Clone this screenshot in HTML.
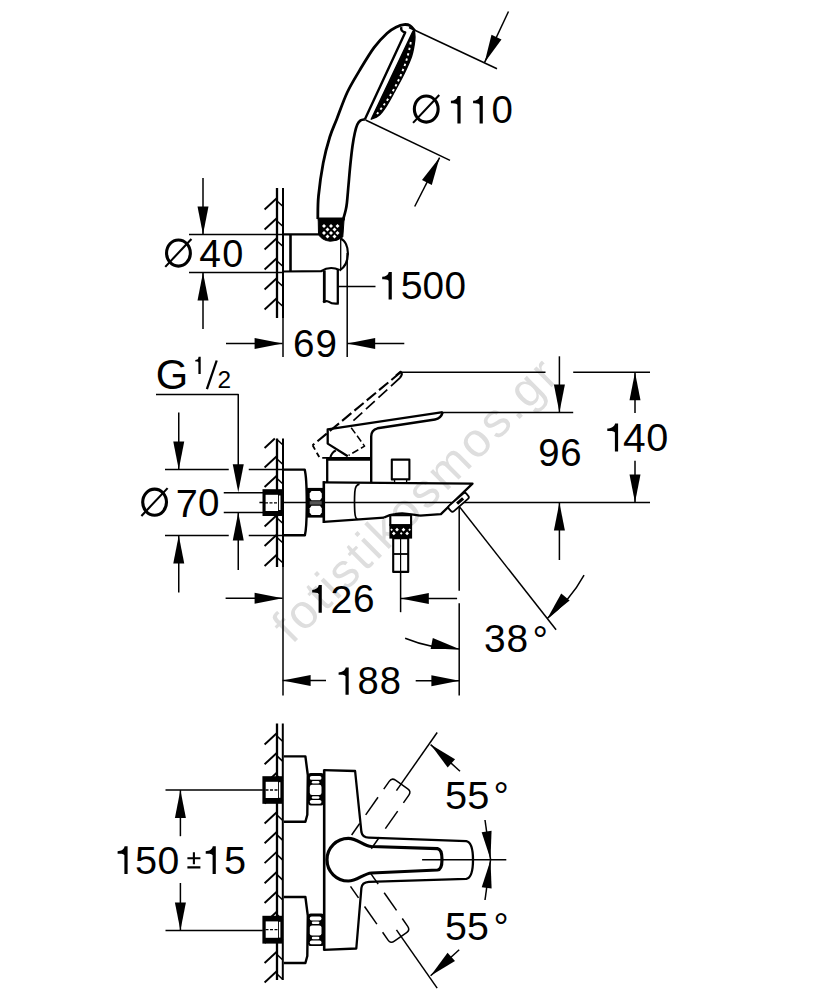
<!DOCTYPE html><html><head><meta charset="utf-8"><style>html,body{margin:0;padding:0;background:#fff;overflow:hidden}svg{display:block}text{font-family:"Liberation Sans",sans-serif}</style></head><body><svg width="834" height="1000" viewBox="0 0 834 1000">
<rect width="834" height="1000" fill="#fff"/>
<text x="0" y="0" font-size="48" fill="#dedede" transform="translate(292,645) rotate(-44.8)" letter-spacing="3.0">fotistikosmos.gr</text>
<g fill="none" stroke="#000" stroke-linecap="butt" stroke-linejoin="round">
<line x1="277" y1="188" x2="277" y2="318" stroke-width="2.3" />
<line x1="283" y1="188" x2="283" y2="318" stroke-width="2.0" />
<line x1="264.6" y1="209.5" x2="277" y2="198" stroke-width="1.9" />
<line x1="277" y1="201" x2="283" y2="206.5" stroke-width="1.6" />
<line x1="264.6" y1="229.5" x2="277" y2="218" stroke-width="1.9" />
<line x1="277" y1="221" x2="283" y2="226.5" stroke-width="1.6" />
<line x1="264.6" y1="249.5" x2="277" y2="238" stroke-width="1.9" />
<line x1="277" y1="241" x2="283" y2="246.5" stroke-width="1.6" />
<line x1="264.6" y1="269.5" x2="277" y2="258" stroke-width="1.9" />
<line x1="277" y1="261" x2="283" y2="266.5" stroke-width="1.6" />
<line x1="264.6" y1="289.5" x2="277" y2="278" stroke-width="1.9" />
<line x1="277" y1="281" x2="283" y2="286.5" stroke-width="1.6" />
<line x1="264.6" y1="309.5" x2="277" y2="298" stroke-width="1.9" />
<line x1="277" y1="301" x2="283" y2="306.5" stroke-width="1.6" />
<line x1="283" y1="318" x2="283" y2="357" stroke-width="1.5" />
<line x1="283" y1="234.3" x2="319" y2="234.3" stroke-width="2.2" />
<line x1="290.5" y1="234.3" x2="290.5" y2="271.5" stroke-width="2.6" />
<path d="M283,271.5 L321,271.2 Q330,265.5 339.5,270" stroke-width="2.2" />
<line x1="340.7" y1="239" x2="340.7" y2="270" stroke-width="1.3" />
<path d="M340.5,238.5 C350.5,243 350.5,264 339.5,270.5" stroke-width="2.2" />
<path d="M324.3,270.5 V302.6" stroke-width="2.8" />
<path d="M337.8,270 V303.4" stroke-width="2.3" />
<path d="M323.2,302.4 Q325.5,300.3 328.5,301.6 Q332.5,304.4 338.8,303.4" stroke-width="2.1" />
<path d="M318.2,218 H344.2 L342.8,237 Q337,241.5 330,241.2 Q322,240.5 318.5,234.5 Z" fill="#000" stroke="#000" stroke-width="1"/>
<path d="M324,224 L326,226 L324,228 L322,226 Z" fill="#fff" stroke="none"/>
<path d="M331,224 L333,226 L331,228 L329,226 Z" fill="#fff" stroke="none"/>
<path d="M337.5,224 L339.5,226 L337.5,228 L335.5,226 Z" fill="#fff" stroke="none"/>
<path d="M327.5,227.5 L329.5,229.5 L327.5,231.5 L325.5,229.5 Z" fill="#fff" stroke="none"/>
<path d="M334.5,227.5 L336.5,229.5 L334.5,231.5 L332.5,229.5 Z" fill="#fff" stroke="none"/>
<path d="M324,231 L326,233 L324,235 L322,233 Z" fill="#fff" stroke="none"/>
<path d="M331,231 L333,233 L331,235 L329,233 Z" fill="#fff" stroke="none"/>
<path d="M337.5,231 L339.5,233 L337.5,235 L335.5,233 Z" fill="#fff" stroke="none"/>
<path d="M327.5,234.5 L329.5,236.5 L327.5,238.5 L325.5,236.5 Z" fill="#fff" stroke="none"/>
<path d="M334.5,234.5 L336.5,236.5 L334.5,238.5 L332.5,236.5 Z" fill="#fff" stroke="none"/>
<path d="M317.8,219 C317.92,215.17 317.6,205.33 318.5,196 C319.4,186.67 321.32,172.83 323.2,163 C325.08,153.17 327.53,144.33 329.8,137 C332.07,129.67 333.9,126.42 336.8,119 C339.7,111.58 343.4,100.6 347.2,92.5 C351,84.4 355.13,77.88 359.6,70.4 C364.07,62.92 369.42,53.8 374,47.6 C378.58,41.4 383.35,36.63 387.1,33.2 C390.85,29.77 393.7,28.43 396.5,27 C399.3,25.57 401.65,24.83 403.9,24.6 C406.15,24.37 408.2,24.57 410,25.6 C411.8,26.63 413.92,29.93 414.7,30.8" stroke-width="2.8" />
<path d="M343.2,219.4 C343.6,217.92 344.98,213.23 345.6,210.5 C346.22,207.77 346.42,207.25 346.9,203 C347.38,198.75 347.93,191.33 348.5,185 C349.07,178.67 349.63,171.5 350.3,165 C350.97,158.5 351.75,151.33 352.5,146 C353.25,140.67 354,136.58 354.8,133 C355.6,129.42 356.33,126.6 357.3,124.5 C358.27,122.4 359.35,121.25 360.6,120.4 C361.85,119.55 364.1,119.57 364.8,119.4" stroke-width="2.7" />
<line x1="317.8" y1="219.2" x2="344.8" y2="219.2" stroke-width="2.4" />
<path d="M401.5,27 Q400,31 405.2,32.5 L364.8,119.5" stroke-width="2.4" />
<path d="M412.8,31.5 L371.2,119.2  C372.47,118.58 376.33,117.62 378.8,115.5 C381.27,113.38 383.42,110.42 386,106.5 C388.58,102.58 391.32,97.42 394.3,92 C397.28,86.58 401,80 403.9,74 C406.8,68 409.88,61.67 411.7,56 C413.52,50.33 414.33,44.08 414.8,40 C415.27,35.92 414.55,32.92 414.5,31.5 Z" fill="#000" stroke="#000" stroke-width="1.4"/>
<path d="M410.8,42 C408.5,55 405,66 400,77 C395,88 389,99 377,114" stroke-width="1.9" stroke="#fff" stroke-dasharray="2.4,3.2"/>
<line x1="409" y1="27.5" x2="497" y2="68.7" stroke-width="1.5" />
<line x1="365.5" y1="120" x2="450" y2="160.4" stroke-width="1.5" />
<line x1="508.5" y1="11.5" x2="484.6" y2="62.4" stroke-width="1.5" />
<path d="M484.6,62.4 L501.48,39.39 L491.52,34.72 Z" fill="#000" stroke="none"/>
<line x1="414.7" y1="206.5" x2="439.6" y2="157.6" stroke-width="1.5" />
<path d="M439.6,157.6 L421.99,180.06 L431.8,185.05 Z" fill="#000" stroke="none"/>
<line x1="189" y1="234.4" x2="283" y2="234.4" stroke-width="1.5" />
<line x1="189" y1="272.4" x2="283" y2="272.4" stroke-width="1.5" />
<line x1="203" y1="178" x2="203" y2="234.4" stroke-width="1.5" />
<path d="M203,234.4 L208.5,206.4 L197.5,206.4 Z" fill="#000" stroke="none"/>
<line x1="203" y1="329" x2="203" y2="272.4" stroke-width="1.5" />
<path d="M203,272.4 L197.5,300.4 L208.5,300.4 Z" fill="#000" stroke="none"/>
<line x1="347.2" y1="253" x2="347.2" y2="357" stroke-width="1.5" />
<line x1="226" y1="343.5" x2="282.6" y2="343.5" stroke-width="1.5" />
<path d="M282.6,343.5 L254.6,338 L254.6,349 Z" fill="#000" stroke="none"/>
<line x1="404.3" y1="343.5" x2="347.2" y2="343.5" stroke-width="1.5" />
<path d="M347.2,343.5 L375.2,349 L375.2,338 Z" fill="#000" stroke="none"/>
<line x1="338.5" y1="286.5" x2="375.5" y2="286.5" stroke-width="1.5" />
<line x1="277" y1="438.5" x2="277" y2="567" stroke-width="2.3" />
<line x1="283" y1="438.5" x2="283" y2="567" stroke-width="2.0" />
<line x1="264.6" y1="448" x2="274.84" y2="438.5" stroke-width="1.9" />
<line x1="277" y1="439.5" x2="283" y2="445" stroke-width="1.6" />
<line x1="264.6" y1="467.5" x2="277" y2="456" stroke-width="1.9" />
<line x1="277" y1="459" x2="283" y2="464.5" stroke-width="1.6" />
<line x1="264.6" y1="487" x2="277" y2="475.5" stroke-width="1.9" />
<line x1="277" y1="478.5" x2="283" y2="484" stroke-width="1.6" />
<line x1="264.6" y1="506.5" x2="277" y2="495" stroke-width="1.9" />
<line x1="277" y1="498" x2="283" y2="503.5" stroke-width="1.6" />
<line x1="264.6" y1="526.5" x2="277" y2="515" stroke-width="1.9" />
<line x1="277" y1="518" x2="283" y2="523.5" stroke-width="1.6" />
<line x1="264.6" y1="546" x2="277" y2="534.5" stroke-width="1.9" />
<line x1="277" y1="537.5" x2="283" y2="543" stroke-width="1.6" />
<line x1="264.6" y1="566" x2="277" y2="554.5" stroke-width="1.9" />
<line x1="277" y1="557.5" x2="283" y2="563" stroke-width="1.6" />
<line x1="283" y1="567" x2="283" y2="695.6" stroke-width="1.5" />
<path d="M156,394.5 H238.25 V466" stroke-width="1.5" />
<path d="M238.25,492.3 L243.75,464.3 L232.75,464.3 Z" fill="#000" stroke="none"/>
<line x1="238.25" y1="570" x2="238.25" y2="512.5" stroke-width="1.5" />
<path d="M238.25,512.5 L232.75,540.5 L243.75,540.5 Z" fill="#000" stroke="none"/>
<line x1="178.75" y1="412.5" x2="178.75" y2="469.6" stroke-width="1.5" />
<path d="M178.75,469.6 L184.25,441.6 L173.25,441.6 Z" fill="#000" stroke="none"/>
<line x1="178.75" y1="592.5" x2="178.75" y2="535.5" stroke-width="1.5" />
<path d="M178.75,535.5 L173.25,563.5 L184.25,563.5 Z" fill="#000" stroke="none"/>
<line x1="165" y1="469.6" x2="228.75" y2="469.6" stroke-width="1.5" />
<line x1="248.75" y1="469.6" x2="283" y2="469.6" stroke-width="1.5" />
<line x1="165" y1="535.4" x2="228.75" y2="535.4" stroke-width="1.5" />
<line x1="248.75" y1="535.4" x2="283" y2="535.4" stroke-width="1.5" />
<line x1="223.75" y1="492.8" x2="264" y2="492.8" stroke-width="1.5" />
<line x1="223.75" y1="512.6" x2="264" y2="512.6" stroke-width="1.5" />
<line x1="259.4" y1="502.6" x2="650" y2="502.6" stroke-width="1.5" />
<rect x="262.5" y="489.2" width="20" height="26.8" fill="#000" stroke="none"/>
<rect x="265.6" y="494.8" width="12.4" height="16.2" fill="#fff" stroke="none"/>
<rect x="278.9" y="495.5" width="1.6" height="14.5" fill="#fff" stroke="none"/>
<line x1="265" y1="502.9" x2="278" y2="502.9" stroke-width="1.3" stroke-dasharray="3,1.5"/>
<path d="M283,469.6 H304.7 C307.4,480 307.4,525 304.9,535.2 H283" stroke-width="2.4" />
<rect x="306.4" y="487.9" width="18.6" height="29.7" fill="#000" stroke="none"/>
<path d="M311.5,491 H320 L321.8,493.5 V497.8 L320,500.3 H311.5 L309.7,497.8 V493.5 Z" fill="#fff" stroke="none"/>
<path d="M311.5,505.7 H320 L321.8,508.2 V512.5 L320,515 H311.5 L309.7,512.5 V508.2 Z" fill="#fff" stroke="none"/>
<rect x="309.7" y="501.2" width="12" height="3.4" fill="#555" stroke="none"/>
<line x1="327.2" y1="458.3" x2="327.2" y2="482" stroke-width="2.3" />
<line x1="326.4" y1="458.8" x2="371.8" y2="458.8" stroke-width="3.8" />
<path d="M442.8,412.2 L327.7,429.3 L327.7,443.6 L347.8,456.2" stroke-width="2.3" />
<path d="M442.8,412.2 Q441,418.5 435,419.5 L377.5,428.3 Q371.2,429.8 371.2,436.5 V482" stroke-width="2.4" />
<path d="M330.2,458 Q331.5,452.5 335.8,450.5" stroke-width="2.0" />
<path d="M400.6,372.3 L312.6,445.3" stroke-width="2.1" stroke-dasharray="12,4"/>
<path d="M312.6,445.3 L319.7,457.9 H327" stroke-width="1.8" stroke-dasharray="5,3.5"/>
<path d="M399.8,378 L352.5,421.5" stroke-width="1.7" stroke-dasharray="12,5"/>
<path d="M351.2,427.7 L364.6,446.1 L348.6,455.4" stroke-width="1.5" stroke-dasharray="7,3"/>
<path d="M396,375.5 L400.5,371.8 Q403.5,373.5 399.8,378" stroke-width="2.2" />
<path d="M323.8,481.2 V523" stroke-width="2.6" />
<path d="M323,482.4 L472.5,483.6 L440.9,514.1 L420,515.6" stroke-width="2.3" />
<path d="M384,517.6 L323.8,521.9" stroke-width="2.3" />
<path d="M359.5,484.2 Q355.2,484.8 354.8,492 Q354.2,502 354.8,512 Q355.2,518.6 357.5,519.5" stroke-width="1.7" />
<rect x="391.8" y="459.6" width="17.6" height="19.8" fill="#fff" stroke="#000" stroke-width="2.1"/>
<rect x="394.6" y="479.6" width="12" height="3" fill="#fff" stroke="#000" stroke-width="1.3"/>
<g transform="translate(458.6,502.3) rotate(-41)"><rect x="-11.5" y="-3.6" width="23" height="7.2" rx="2.2" fill="#fff" stroke="#000" stroke-width="1.8"/><line x1="-2" y1="0" x2="6" y2="0" stroke-width="3.2"/></g>
<rect x="390.3" y="515.2" width="20.8" height="10" fill="#fff" stroke="#000" stroke-width="2.1"/>
<path d="M384,517.6 Q390,514.4 395,514.2 Q401,513 407,513.8 Q413,514.5 420,515.6" stroke-width="2.3" />
<rect x="389.4" y="524.2" width="22.7" height="14.4" fill="#000" stroke="none"/>
<path d="M391.6,528.4000000000001 L392.90000000000003,529.7 L391.6,531.0 L390.3,529.7 Z" fill="#fff" stroke="none"/>
<path d="M397,527.8000000000001 L398.9,529.7 L397,531.6 L395.1,529.7 Z" fill="#fff" stroke="none"/>
<path d="M403.5,527.8000000000001 L405.4,529.7 L403.5,531.6 L401.6,529.7 Z" fill="#fff" stroke="none"/>
<path d="M409.6,528.4000000000001 L410.90000000000003,529.7 L409.6,531.0 L408.3,529.7 Z" fill="#fff" stroke="none"/>
<path d="M393.8,531.5 L395.7,533.4 L393.8,535.3 L391.90000000000003,533.4 Z" fill="#fff" stroke="none"/>
<path d="M401.2,532.1 L402.5,533.4 L401.2,534.6999999999999 L399.9,533.4 Z" fill="#fff" stroke="none"/>
<path d="M407.1,531.5 L409.0,533.4 L407.1,535.3 L405.20000000000005,533.4 Z" fill="#fff" stroke="none"/>
<rect x="393.2" y="538.1" width="15" height="33.8" fill="#fff" stroke="#000" stroke-width="2.1"/>
<line x1="400.6" y1="538" x2="400.6" y2="572" stroke-width="1.2" />
<line x1="393.2" y1="554" x2="408.2" y2="554" stroke-width="1.8" />
<line x1="400.6" y1="572" x2="400.6" y2="612.2" stroke-width="1.5" />
<line x1="400.6" y1="372.2" x2="545.5" y2="372.2" stroke-width="1.5" />
<line x1="573.2" y1="372.2" x2="650" y2="372.2" stroke-width="1.5" />
<line x1="442.8" y1="412.5" x2="573.2" y2="412.5" stroke-width="1.5" />
<line x1="559.4" y1="356.3" x2="559.4" y2="412.5" stroke-width="1.5" />
<path d="M559.4,412.5 L564.9,384.5 L553.9,384.5 Z" fill="#000" stroke="none"/>
<line x1="559.4" y1="560" x2="559.4" y2="502.6" stroke-width="1.5" />
<path d="M559.4,502.6 L553.9,530.6 L564.9,530.6 Z" fill="#000" stroke="none"/>
<line x1="635" y1="413" x2="635" y2="372.2" stroke-width="1.5" />
<path d="M635,372.2 L629.5,400.2 L640.5,400.2 Z" fill="#000" stroke="none"/>
<line x1="635" y1="460.8" x2="635" y2="502.6" stroke-width="1.5" />
<path d="M635,502.6 L640.5,474.6 L629.5,474.6 Z" fill="#000" stroke="none"/>
<line x1="459.2" y1="506" x2="459.2" y2="590.7" stroke-width="1.5" />
<line x1="459.2" y1="603.3" x2="459.2" y2="695.6" stroke-width="1.5" />
<line x1="225.6" y1="598.3" x2="282.6" y2="598.3" stroke-width="1.5" />
<path d="M282.6,598.3 L254.6,592.8 L254.6,603.8 Z" fill="#000" stroke="none"/>
<line x1="457.1" y1="598.6" x2="400.8" y2="598.6" stroke-width="1.5" />
<path d="M400.8,598.6 L428.8,604.1 L428.8,593.1 Z" fill="#000" stroke="none"/>
<line x1="326" y1="680.6" x2="282.6" y2="680.6" stroke-width="1.5" />
<path d="M282.6,680.6 L310.6,686.1 L310.6,675.1 Z" fill="#000" stroke="none"/>
<line x1="415.7" y1="680.8" x2="459.4" y2="680.8" stroke-width="1.5" />
<path d="M459.4,680.8 L431.4,675.3 L431.4,686.3 Z" fill="#000" stroke="none"/>
<line x1="459.2" y1="506.4" x2="556.1" y2="629.8" stroke-width="1.5" />
<path d="M584.06,575.08 A142.5,142.5 0 0 1 547.32,618.38" stroke-width="1.5" />
<path d="M547.32,618.38 L569.63,600.59 L561.24,593.47 Z" fill="#000" stroke="none"/>
<path d="M405.14,638.25 A142.5,142.5 0 0 0 459.2,648.9" stroke-width="1.5" />
<path d="M459.2,648.9 L432.79,638.09 L430.66,648.88 Z" fill="#000" stroke="none"/>
<line x1="277" y1="723.5" x2="277" y2="980" stroke-width="2.3" />
<line x1="282.8" y1="723.5" x2="282.8" y2="980" stroke-width="2.0" />
<line x1="264.6" y1="744.5" x2="277" y2="733" stroke-width="1.9" />
<line x1="277" y1="736" x2="282.8" y2="741.5" stroke-width="1.6" />
<line x1="264.6" y1="764.3" x2="277" y2="752.8" stroke-width="1.9" />
<line x1="277" y1="755.8" x2="282.8" y2="761.3" stroke-width="1.6" />
<line x1="264.6" y1="784" x2="277" y2="772.5" stroke-width="1.9" />
<line x1="277" y1="775.5" x2="282.8" y2="781" stroke-width="1.6" />
<line x1="264.6" y1="803.5" x2="277" y2="792" stroke-width="1.9" />
<line x1="277" y1="795" x2="282.8" y2="800.5" stroke-width="1.6" />
<line x1="264.6" y1="823.5" x2="277" y2="812" stroke-width="1.9" />
<line x1="277" y1="815" x2="282.8" y2="820.5" stroke-width="1.6" />
<line x1="264.6" y1="843.3" x2="277" y2="831.8" stroke-width="1.9" />
<line x1="277" y1="834.8" x2="282.8" y2="840.3" stroke-width="1.6" />
<line x1="264.6" y1="863.1" x2="277" y2="851.6" stroke-width="1.9" />
<line x1="277" y1="854.6" x2="282.8" y2="860.1" stroke-width="1.6" />
<line x1="264.6" y1="883.2" x2="277" y2="871.7" stroke-width="1.9" />
<line x1="277" y1="874.7" x2="282.8" y2="880.2" stroke-width="1.6" />
<line x1="264.6" y1="903" x2="277" y2="891.5" stroke-width="1.9" />
<line x1="277" y1="894.5" x2="282.8" y2="900" stroke-width="1.6" />
<line x1="264.6" y1="923" x2="277" y2="911.5" stroke-width="1.9" />
<line x1="277" y1="914.5" x2="282.8" y2="920" stroke-width="1.6" />
<line x1="264.6" y1="943" x2="277" y2="931.5" stroke-width="1.9" />
<line x1="277" y1="934.5" x2="282.8" y2="940" stroke-width="1.6" />
<line x1="264.6" y1="963" x2="277" y2="951.5" stroke-width="1.9" />
<line x1="277" y1="954.5" x2="282.8" y2="960" stroke-width="1.6" />
<line x1="264.6" y1="982.5" x2="277" y2="971" stroke-width="1.9" />
<line x1="277" y1="974" x2="282.8" y2="979.5" stroke-width="1.6" />
<line x1="165.5" y1="790.1" x2="262.8" y2="790.1" stroke-width="1.5" />
<line x1="165.5" y1="930.4" x2="262.8" y2="930.4" stroke-width="1.5" />
<line x1="180.4" y1="836.2" x2="180.4" y2="790.1" stroke-width="1.5" />
<path d="M180.4,790.1 L174.9,818.1 L185.9,818.1 Z" fill="#000" stroke="none"/>
<line x1="180.4" y1="883" x2="180.4" y2="930.4" stroke-width="1.5" />
<path d="M180.4,930.4 L185.9,902.4 L174.9,902.4 Z" fill="#000" stroke="none"/>
<rect x="262.4" y="776.2" width="20.4" height="27.6" fill="#000" stroke="none"/>
<rect x="265.7" y="781.8" width="12.3" height="16.2" fill="#fff" stroke="none"/>
<rect x="278.9" y="782.2" width="1.5" height="15.6" fill="#fff" stroke="none"/>
<line x1="265.5" y1="790" x2="278" y2="790" stroke-width="1.3" stroke-dasharray="3,1.5"/>
<rect x="262.4" y="915.8" width="20.4" height="27.8" fill="#000" stroke="none"/>
<rect x="265.7" y="921.4" width="12.3" height="16.4" fill="#fff" stroke="none"/>
<rect x="278.9" y="921.8" width="1.5" height="15.8" fill="#fff" stroke="none"/>
<line x1="265.5" y1="929.7" x2="278" y2="929.7" stroke-width="1.3" stroke-dasharray="3,1.5"/>
<path d="M283.8,756.4 H305.4 L307.8,775 L307.3,814.7 L305.4,821.7 H283.8" stroke-width="2.4" />
<path d="M283.8,897 H305.4 L307.8,915.6 L307.3,956 L305.4,963 H283.8" stroke-width="2.4" />
<rect x="308" y="773" width="16" height="32.4" rx="2.8" fill="#000" stroke="none"/>
<rect x="309.8" y="776" width="11.7" height="3.8" rx="1.9" fill="#fff" stroke="none"/>
<rect x="311.8" y="781" width="7.6" height="2.5" rx="1.25" fill="#fff" stroke="none"/>
<rect x="309.8" y="784.8" width="11.7" height="10.1" rx="2.2" fill="#fff" stroke="none"/>
<rect x="311.8" y="796.2" width="7.6" height="2.5" rx="1.25" fill="#fff" stroke="none"/>
<rect x="309.8" y="800" width="11.7" height="3.7" rx="1.85" fill="#fff" stroke="none"/>
<rect x="308" y="913.6" width="16" height="32.4" rx="2.8" fill="#000" stroke="none"/>
<rect x="309.8" y="916.6" width="11.7" height="3.8" rx="1.9" fill="#fff" stroke="none"/>
<rect x="311.8" y="921.6" width="7.6" height="2.5" rx="1.25" fill="#fff" stroke="none"/>
<rect x="309.8" y="925.4" width="11.7" height="10.1" rx="2.2" fill="#fff" stroke="none"/>
<rect x="311.8" y="936.8" width="7.6" height="2.5" rx="1.25" fill="#fff" stroke="none"/>
<rect x="309.8" y="940.6" width="11.7" height="3.7" rx="1.85" fill="#fff" stroke="none"/>
<path d="M324.2,769.6 V950.5" stroke-width="2.6" />
<path d="M323.5,770.1 L355.1,771 L361.4,832 Q362.5,837.5 368.8,837.7 L466.3,841.2 Q473,842.5 473,860 Q473,877.5 466.3,878.8 L368.8,881.9 Q362,882.5 361.4,888 L356.3,948.5 L323.5,949.8" stroke-width="2.3" />
<path d="M348.3,838.4 A21.3,21.3 0 0 0 348.3,881 C357,881 363.5,873.5 371.5,873.0 L437.5,870 Q442,869.5 442,859.5 Q442,849.5 437.5,848.7 L371.5,846.5 C363.5,845.8 357,838.4 348.3,838.4 Z" stroke-width="3.2" />
<line x1="422.1" y1="859.7" x2="506.3" y2="859.7" stroke-width="1.5" />
<line x1="365.69" y1="814.91" x2="378.02" y2="797.3" stroke-width="1.5" />
<line x1="385.35" y1="828.67" x2="397.68" y2="811.06" stroke-width="1.5" />
<line x1="351.64" y1="834.98" x2="359.67" y2="823.51" stroke-width="1.5" />
<line x1="371.3" y1="848.74" x2="379.33" y2="837.28" stroke-width="1.5" />
<path d="M383.76,789.11 L389.21,781.32 Q391.79,777.64 395.47,780.22 L407.76,788.82 Q411.45,791.4 408.86,795.09 L403.42,802.87" stroke-width="1.5" />
<line x1="396.45" y1="790.67" x2="437.18" y2="732.51" stroke-width="1.5" />
<line x1="384.2" y1="892.73" x2="396.53" y2="910.34" stroke-width="1.5" />
<line x1="364.54" y1="906.49" x2="376.87" y2="924.11" stroke-width="1.5" />
<line x1="370.15" y1="872.66" x2="378.18" y2="884.13" stroke-width="1.5" />
<line x1="350.49" y1="886.42" x2="358.52" y2="897.89" stroke-width="1.5" />
<path d="M402.27,918.53 L407.72,926.31 Q410.3,930 406.61,932.58 L394.33,941.18 Q390.64,943.77 388.06,940.08 L382.61,932.3" stroke-width="1.5" />
<line x1="396.45" y1="929.93" x2="437.18" y2="988.09" stroke-width="1.5" />
<line x1="460" y1="771.2" x2="430.6" y2="744.6" stroke-width="1.5" />
<path d="M430.6,744.6 L447.67,767.46 L455.05,759.31 Z" fill="#000" stroke="none"/>
<line x1="459.2" y1="949.7" x2="430.6" y2="975.8" stroke-width="1.5" />
<path d="M430.6,975.8 L454.99,960.99 L447.57,952.86 Z" fill="#000" stroke="none"/>
<line x1="485" y1="820" x2="490.5" y2="859.2" stroke-width="1.5" />
<path d="M490.5,859.2 L491.56,830.78 L481.66,832.17 Z" fill="#000" stroke="none"/>
<line x1="485" y1="900" x2="490.5" y2="860.2" stroke-width="1.5" />
<path d="M490.5,860.2 L481.71,887.25 L491.62,888.62 Z" fill="#000" stroke="none"/>
</g>
<g font-family="Liberation Sans, sans-serif" fill="#000" stroke="none">
<ellipse cx="426.25" cy="109.05" rx="11.9" ry="13.1" fill="none" stroke="#000" stroke-width="3.1"/>
<line x1="413.05" y1="122.85" x2="439.25" y2="94.95" stroke="#000" stroke-width="2.1"/>
<path d="M460.6,95.9 V123.5 H457.4 V104.73 C456.4,103.35 452.9,103.35 450.9,103.35 V100.87 C454.4,100.59 456.9,99.21 457.6,95.9 Z" fill="#000" stroke="none"/>
<path d="M482.8,95.9 V123.5 H479.6 V104.73 C478.6,103.35 475.1,103.35 473.1,103.35 V100.87 C476.6,100.59 479.1,99.21 479.8,95.9 Z" fill="#000" stroke="none"/>
<text x="491.48" y="123.07" font-size="38.45">0</text>
<ellipse cx="178.45" cy="253.05" rx="11.9" ry="13.1" fill="none" stroke="#000" stroke-width="3.1"/>
<line x1="165.25" y1="266.85" x2="191.45" y2="238.95" stroke="#000" stroke-width="2.1"/>
<text x="199.13" y="267.45" font-size="38.99">4</text>
<text x="222.14" y="267.07" font-size="37.89">0</text>
<path d="M391.8,271.9 V299.5 H388.6 V280.73 C387.6,279.35 384.2,279.35 382.2,279.35 V276.87 C385.7,276.59 388.1,275.21 388.8,271.9 Z" fill="#000" stroke="none"/>
<text x="400.7" y="299.06" font-size="39.29">5</text>
<text x="422.4" y="299.06" font-size="38.73">0</text>
<text x="444.55" y="299.06" font-size="38.73">0</text>
<text x="293.09" y="357.06" font-size="38.59">6</text>
<text x="315.49" y="357.06" font-size="38.59">9</text>
<text x="155.86" y="388.83" font-size="41.69">G</text>
<path d="M200.7,356.8 V374.1 H198.4 V362.34 C197.4,361.47 197.3,361.47 195.3,361.47 V359.91 C198.8,359.74 197.9,358.88 198.6,356.8 Z" fill="#000" stroke="none"/>
<line x1="206.9" y1="389.2" x2="216.7" y2="360.5" stroke="#000" stroke-width="2.3"/>
<text x="217.42" y="388.45" font-size="24.43">2</text>
<ellipse cx="154.6" cy="502.2" rx="11.9" ry="13.1" fill="none" stroke="#000" stroke-width="3.1"/>
<line x1="141.4" y1="516" x2="167.6" y2="488.1" stroke="#000" stroke-width="2.1"/>
<text x="175.78" y="516.75" font-size="39.71">7</text>
<text x="197.94" y="516.36" font-size="38.59">0</text>
<text x="538.27" y="466.47" font-size="38.31">9</text>
<text x="560.22" y="466.47" font-size="38.31">6</text>
<path d="M618.1,423.4 V451.6 H614.9 V432.42 C613.9,431.01 609.3,431.01 607.3,431.01 V428.48 C610.8,428.19 614.4,426.78 615.1,423.4 Z" fill="#000" stroke="none"/>
<text x="623.1" y="451.55" font-size="40.72">4</text>
<text x="646.27" y="451.15" font-size="39.58">0</text>
<path d="M321.8,585.1 V612.7 H318.6 V593.93 C317.6,592.55 314.2,592.55 312.2,592.55 V590.07 C315.7,589.79 318.1,588.41 318.8,585.1 Z" fill="#000" stroke="none"/>
<text x="330.4" y="612.65" font-size="39.29">2</text>
<text x="352.9" y="612.26" font-size="38.73">6</text>
<path d="M348.7,667.5 V694.7 H345.5 V676.2 C344.5,674.84 340.6,674.84 338.6,674.84 V672.4 C342.1,672.12 345,670.76 345.7,667.5 Z" fill="#000" stroke="none"/>
<text x="357.46" y="694.27" font-size="38.17">8</text>
<text x="379.76" y="694.27" font-size="38.17">8</text>
<text x="484.11" y="651.76" font-size="38.87">3</text>
<text x="506.42" y="651.76" font-size="38.87">8</text>
<text x="532.39" y="652.55" font-size="38.57">°</text>
<path d="M127.6,846.2 V874.1 H124.4 V855.13 C123.4,853.73 119.6,853.73 117.6,853.73 V851.22 C121.1,850.94 123.9,849.55 124.6,846.2 Z" fill="#000" stroke="none"/>
<text x="135.08" y="873.65" font-size="39.71">5</text>
<text x="157.43" y="873.66" font-size="39.15">0</text>
<path d="M187.4,858.3 H200.4 M193.9,852.3 V864.2 M187.4,867.4 H200.4" stroke="#000" stroke-width="2.1" fill="none"/>
<path d="M215.8,846.2 V874.1 H212.6 V855.13 C211.6,853.73 207.7,853.73 205.7,853.73 V851.22 C209.2,850.94 212.1,849.55 212.8,846.2 Z" fill="#000" stroke="none"/>
<text x="224.03" y="873.65" font-size="39.71">5</text>
<text x="444.93" y="808.65" font-size="39.71">5</text>
<text x="467.18" y="808.65" font-size="39.71">5</text>
<text x="493.41" y="809.2" font-size="38.21">°</text>
<text x="445.05" y="939.56" font-size="39.29">5</text>
<text x="467.05" y="939.56" font-size="39.29">5</text>
<text x="493.48" y="939.85" font-size="37.86">°</text>
</g>
</svg></body></html>
